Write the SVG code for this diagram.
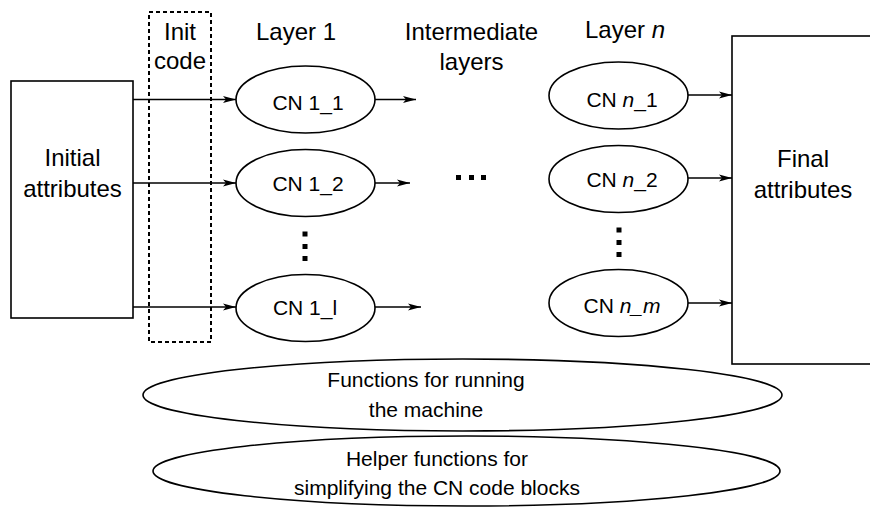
<svg xmlns="http://www.w3.org/2000/svg" width="870" height="507" viewBox="0 0 870 507">
<style>
.box{fill:#fff;stroke:#000;stroke-width:1.6}
.ell{fill:#fff;stroke:#000;stroke-width:1.6}
.dash{fill:none;stroke:#000;stroke-width:2;stroke-dasharray:4,3}
.conn{stroke:#000;stroke-width:1.5;fill:none;marker-end:url(#arr)}
.lbl{font-family:"Liberation Sans",Arial,sans-serif;font-size:24px;text-anchor:middle;fill:#000}
.cn{font-family:"Liberation Sans",Arial,sans-serif;font-size:21px;text-anchor:middle;fill:#000}
.fn{font-family:"Liberation Sans",Arial,sans-serif;font-size:21px;text-anchor:middle;fill:#000}
.dot{fill:#000}
</style>
<defs>
<marker id="arr" markerUnits="userSpaceOnUse" markerWidth="14" markerHeight="10" refX="13" refY="4" orient="auto">
<path d="M0,0.5 L13,4 L0,7.5 L3,4 z" fill="#000"/>
</marker>
</defs>
<rect width="870" height="507" fill="#fff"/>

<g id="connectors">
<line class="conn" x1="133" y1="99.5" x2="236" y2="99.5"/>
<line class="conn" x1="133" y1="183" x2="236" y2="183"/>
<line class="conn" x1="133" y1="307" x2="236" y2="307"/>
<line class="conn" x1="375" y1="99.5" x2="416" y2="99.5"/>
<line class="conn" x1="375" y1="183" x2="410" y2="183"/>
<line class="conn" x1="375" y1="307" x2="421" y2="307"/>
<line class="conn" x1="688" y1="95" x2="732" y2="95"/>
<line class="conn" x1="688" y1="178" x2="732" y2="178"/>
<line class="conn" x1="688" y1="303" x2="732" y2="303"/>
</g>

<g id="initial-attributes">
<rect class="box" x="11" y="81" width="122" height="237"/>
<text class="lbl" x="72.5" y="166">Initial</text>
<text class="lbl" x="72.5" y="197">attributes</text>
</g>

<g id="init-code">
<rect class="dash" x="149" y="12" width="62" height="330"/>
<text class="lbl" x="180" y="40">Init</text>
<text class="lbl" x="180" y="69">code</text>
</g>

<g id="layer1-label"><text class="lbl" x="296" y="40">Layer 1</text></g>
<g id="intermediate-label">
<text class="lbl" x="471.5" y="40">Intermediate</text>
<text class="lbl" x="471.5" y="70">layers</text>
</g>
<g id="layern-label"><text class="lbl" x="625" y="38">Layer <tspan font-style="italic">n</tspan></text></g>

<g id="cn1_1">
<ellipse class="ell" cx="305.5" cy="99.5" rx="69.5" ry="33.5"/>
<text class="cn" x="308" y="110">CN 1_1</text>
</g>
<g id="cn1_2">
<ellipse class="ell" cx="305.5" cy="183" rx="69.5" ry="33.5"/>
<text class="cn" x="308" y="191">CN 1_2</text>
</g>
<g id="cn1_l">
<ellipse class="ell" cx="305.5" cy="308" rx="69.5" ry="33.5"/>
<text class="cn" x="305" y="315">CN 1_l</text>
</g>
<g id="dots-layer1">
<rect class="dot" x="302.5" y="231.5" width="5" height="5"/>
<rect class="dot" x="302.5" y="244" width="5" height="5"/>
<rect class="dot" x="302.5" y="256" width="5" height="5"/>
</g>
<g id="dots-intermediate">
<rect class="dot" x="456" y="175" width="5" height="5"/>
<rect class="dot" x="469" y="175" width="5" height="5"/>
<rect class="dot" x="481" y="175" width="5" height="5"/>
</g>

<g id="cnn_1">
<ellipse class="ell" cx="618.5" cy="95.5" rx="69.5" ry="33.5"/>
<text class="cn" x="622" y="107">CN <tspan font-style="italic">n</tspan>_1</text>
</g>
<g id="cnn_2">
<ellipse class="ell" cx="618.5" cy="179" rx="69.5" ry="33.5"/>
<text class="cn" x="622" y="187">CN <tspan font-style="italic">n</tspan>_2</text>
</g>
<g id="cnn_m">
<ellipse class="ell" cx="618.5" cy="303" rx="69.5" ry="33.5"/>
<text class="cn" x="622" y="313">CN <tspan font-style="italic">n_m</tspan></text>
</g>
<g id="dots-layern">
<rect class="dot" x="616.5" y="227.5" width="5" height="5"/>
<rect class="dot" x="616.5" y="240" width="5" height="5"/>
<rect class="dot" x="616.5" y="252" width="5" height="5"/>
</g>

<g id="final-attributes">
<rect class="box" x="732" y="36" width="150" height="328"/>
<text class="lbl" x="803" y="167">Final</text>
<text class="lbl" x="803" y="198">attributes</text>
</g>

<g id="running-functions">
<ellipse class="ell" cx="462.5" cy="395" rx="319.5" ry="36"/>
<text class="fn" x="426" y="387">Functions for running</text>
<text class="fn" x="426" y="417">the machine</text>
</g>
<g id="helper-functions">
<ellipse class="ell" cx="466.5" cy="471" rx="313.5" ry="35"/>
<text class="fn" x="437" y="466">Helper functions for</text>
<text class="fn" x="437" y="495">simplifying the CN code blocks</text>
</g>
</svg>
